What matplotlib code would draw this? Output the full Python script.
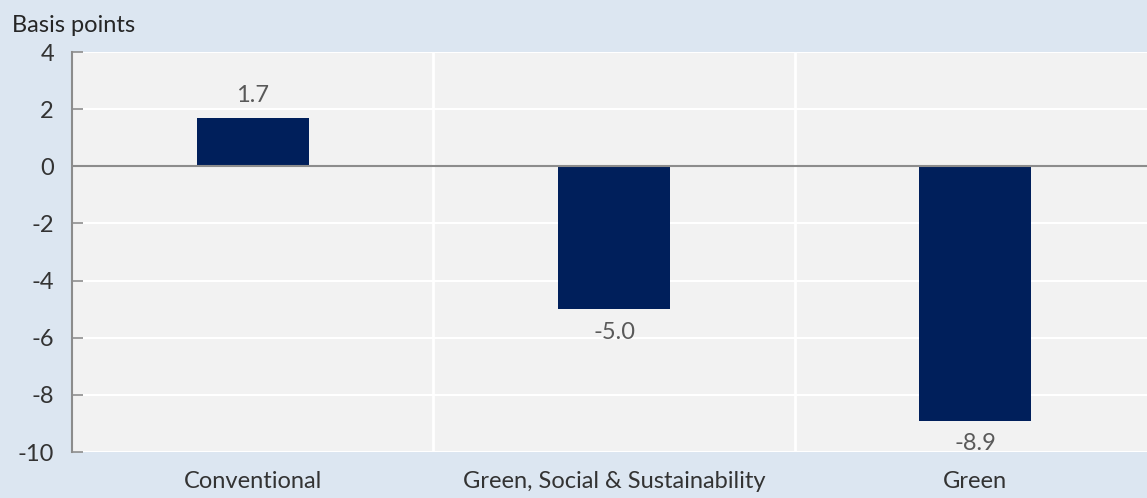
import matplotlib
matplotlib.use("Agg")
import matplotlib.pyplot as plt

# data
categories = ["Conventional", "Green, Social & Sustainability", "Green"]
values = [1.7, -5.0, -8.9]
yticks = [4, 2, 0, -2, -4, -6, -8, -10]

plt.rcParams['font.family'] = ['Lato', 'DejaVu Sans']

bg = '#dce6f1'
fig = plt.figure(figsize=(11.47, 4.98), dpi=100, facecolor=bg)
ax = fig.add_axes([72 / 1147, 1 - 452 / 498, 1 - 72 / 1147, 400 / 498])
ax.set_facecolor('#f2f2f2')

x = list(range(len(categories)))
ax.bar(x, values, width=0.31, color='#001f5b', zorder=3)

# horizontal grid + category separators
for t in yticks:
    ax.axhline(t, color='white', lw=1.5, zorder=1)
for s in [0.5, 1.5]:
    ax.axvline(s, color='white', lw=2, zorder=1)
ax.axhline(0, color='#8c8c8c', lw=1.5, zorder=4)

for xi, v in zip(x, values):
    if v >= 0:
        ax.text(xi, v + 0.4, f"{v:.1f}", ha='center', va='bottom', fontsize=17, color='#595959')
    else:
        ax.text(xi, v - 0.45, f"{v:.1f}", ha='center', va='top', fontsize=17, color='#595959')

ax.set_xlim(-0.5, 2.475)
ax.set_ylim(-10, 4)
ax.set_yticks(yticks)
ax.set_yticklabels([str(t) for t in yticks])
ax.set_xticks(x)
ax.set_xticklabels(categories)
ax.tick_params(axis='y', direction='in', length=8, width=1.2, color='#8c8c8c',
               labelsize=17, labelcolor='#333333', pad=13)
ax.tick_params(axis='x', length=0, labelsize=17, labelcolor='#333333', pad=14)

for side in ['top', 'right', 'bottom']:
    ax.spines[side].set_visible(False)
ax.spines['left'].set_color('#8c8c8c')
ax.spines['left'].set_linewidth(1.5)

fig.text(12 / 1147, 1 - 26 / 498, "Basis points", ha='left', va='center', fontsize=17, color='#262626')

fig.savefig("out.png", dpi=100, facecolor=bg)
